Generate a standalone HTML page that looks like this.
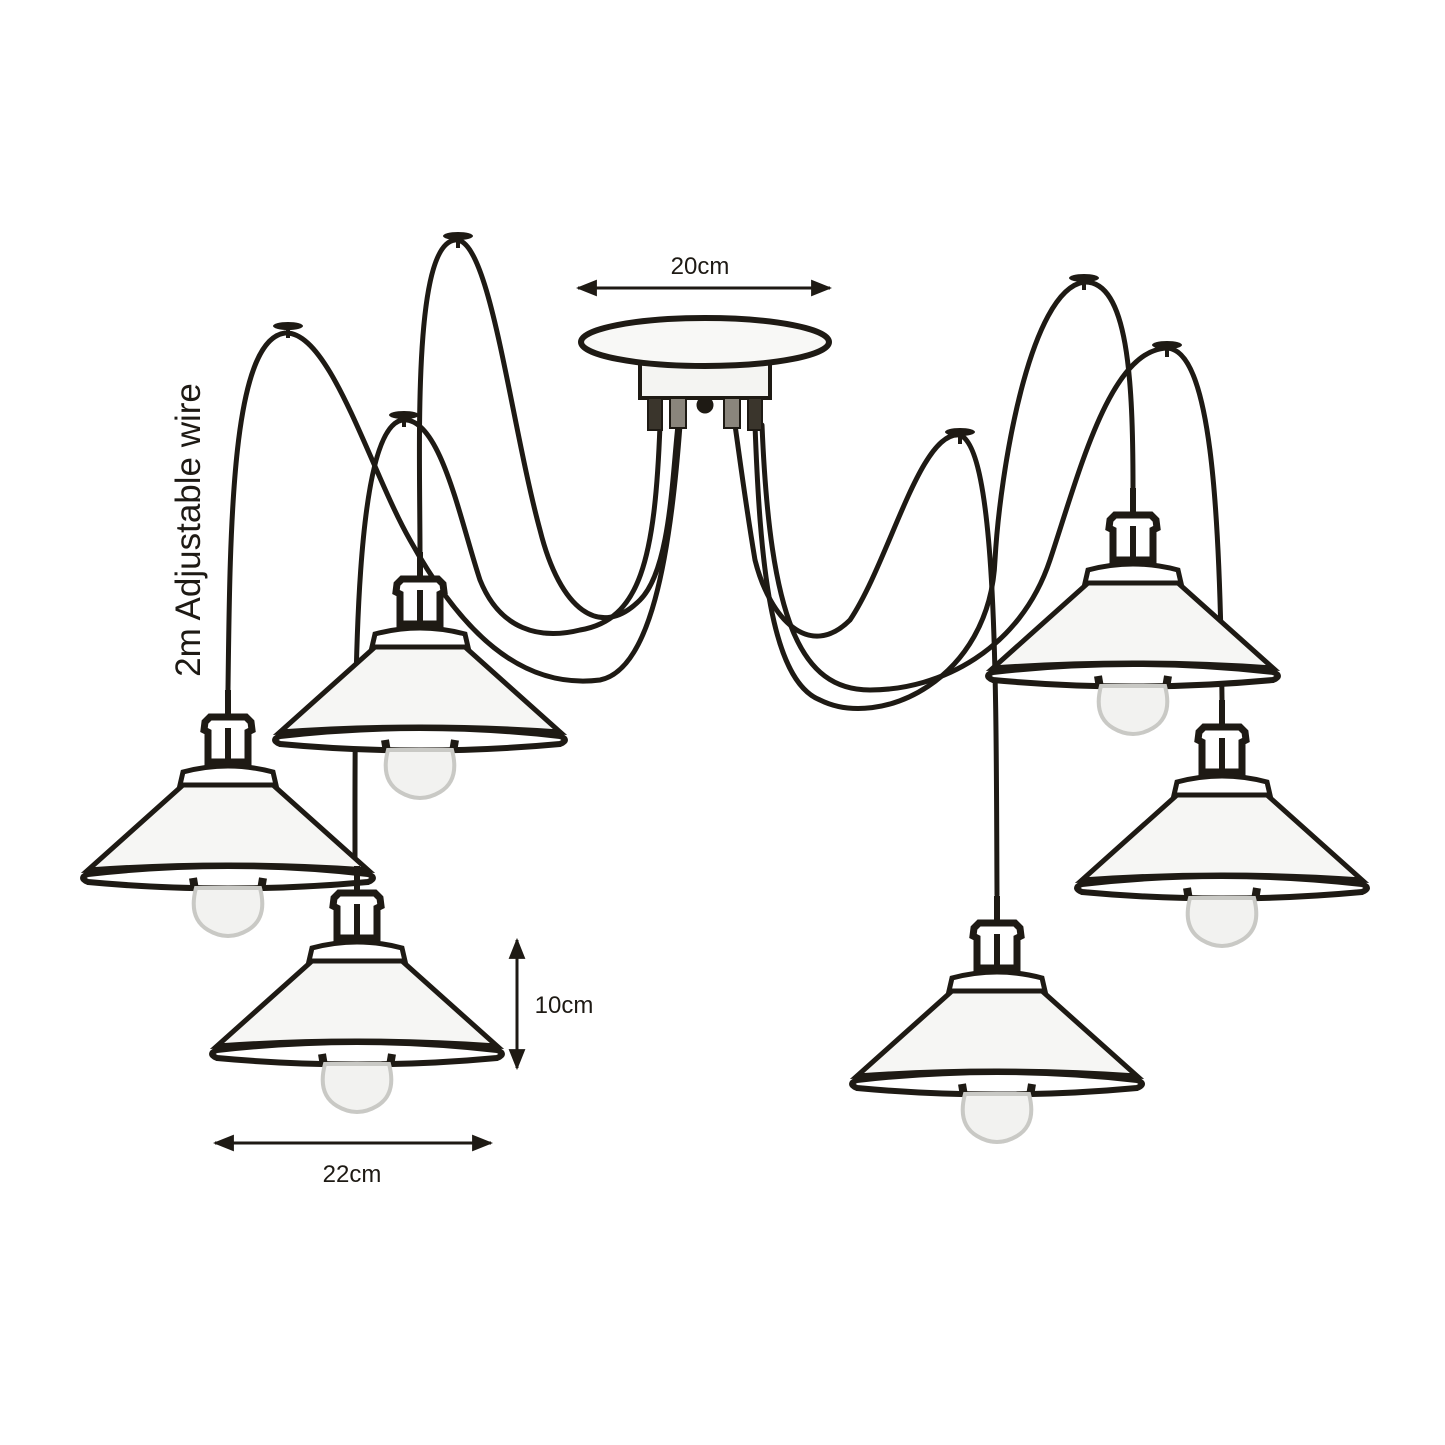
<!DOCTYPE html>
<html><head><meta charset="utf-8"><style>
html,body{margin:0;padding:0;background:#fff;width:1445px;height:1445px;overflow:hidden}
svg{display:block}
text{font-family:"Liberation Sans",sans-serif;fill:#1e1a14}
</style></head><body>
<svg width="1445" height="1445" viewBox="0 0 1445 1445" xmlns="http://www.w3.org/2000/svg">
<defs>
<marker id="ah" viewBox="0 0 10 10" refX="9" refY="5" markerWidth="7" markerHeight="7" orient="auto-start-reverse"><path d="M0,1 L10,5 L0,9 z" fill="#1e1a14"/></marker>
<g id="hook"><ellipse cx="0" cy="0" rx="15" ry="4" fill="#1e1a14"/><rect x="-2" y="0" width="4" height="12" fill="#1e1a14"/></g>
<g id="lamp" stroke="#1e1a14" fill="#fff">
 <rect x="-3" y="0" width="6" height="26" fill="#1e1a14" stroke="none"/>
 <path d="M-23,32 L-18,27 L18,27 L23,32 L24,40 L20,42 L20,72 L-20,72 L-20,42 L-24,40 Z" stroke-width="7"/>
 <rect x="-3" y="38" width="6" height="34" fill="#1e1a14" stroke="none"/>
 <path d="M-45,82 Q0,70 45,82 L48,95 L-48,95 Z" stroke-width="5"/>
 <path d="M-45,95 L45,95 L140,180 Q0,170 -140,180 Z" stroke-width="5" fill="#f6f6f4"/>
 <path d="M-140,184 Q0,168 140,184 Q150,188 140,192 Q0,205 -140,192 Q-150,188 -140,184Z" stroke-width="6" fill="#fff"/>
 <path d="M-35,188 L-33,200 M35,188 L33,200" stroke-width="8"/>
 <path d="M-32,198 Q-40,228 -20,240 Q0,252 20,240 Q40,228 32,198 Z" stroke="#c9c9c5" stroke-width="4" fill="#f2f2f0"/>
</g>
</defs>
<g fill="none" stroke="#1e1a14" stroke-width="5" stroke-linecap="round">
 <path d="M228,690 C230,520 232,340 285,333 C330,330 370,470 410,540 C460,630 520,690 600,680 C650,670 670,560 680,425"/>
 <path d="M420,555 C420,450 412,245 455,240 C490,236 510,420 540,530 C560,610 600,640 640,600 C670,570 672,480 678,425"/>
 <path d="M355,865 C355,700 352,430 402,420 C440,415 460,520 480,580 C500,630 540,640 580,630 C640,620 655,560 660,425"/>
 <path d="M997,895 C996,700 998,450 960,435 C920,430 890,560 850,620 C810,660 770,620 755,560 C745,500 740,460 735,425"/>
 <path d="M1133,488 C1133,380 1128,280 1084,282 C1030,290 1000,470 995,560 C990,680 880,730 820,700 C770,680 760,560 755,425"/>
 <path d="M1222,700 C1220,500 1210,350 1167,348 C1110,350 1080,470 1050,560 C1020,650 940,690 870,690 C800,690 770,620 762,425"/>
</g>
<use href="#hook" x="288" y="326"/><use href="#hook" x="458" y="236"/><use href="#hook" x="404" y="415"/>
<use href="#hook" x="1084" y="278"/><use href="#hook" x="1167" y="345"/><use href="#hook" x="960" y="432"/>
<g stroke="#1e1a14">
 <path d="M640,362 L770,362 L770,398 L640,398 Z" fill="#f4f4f2" stroke-width="4"/>
 <ellipse cx="705" cy="342" rx="124" ry="24" fill="#f8f8f6" stroke-width="6"/>
 <rect x="648" y="398" width="14" height="32" fill="#3a352c" stroke-width="2"/>
 <rect x="670" y="398" width="16" height="30" fill="#8a857c" stroke-width="2"/>
 <rect x="724" y="398" width="16" height="30" fill="#8a857c" stroke-width="2"/>
 <rect x="748" y="398" width="14" height="32" fill="#3a352c" stroke-width="2"/>
 <circle cx="705" cy="405" r="8" fill="#1e1a14"/>
</g>
<use href="#lamp" x="228" y="690"/>
<use href="#lamp" x="420" y="552"/>
<use href="#lamp" x="357" y="866"/>
<use href="#lamp" x="997" y="896"/>
<use href="#lamp" x="1133" y="488"/>
<use href="#lamp" x="1222" y="700"/>
<g stroke="#1e1a14" stroke-width="3">
 <line x1="578" y1="288" x2="830" y2="288" marker-start="url(#ah)" marker-end="url(#ah)"/>
 <line x1="517" y1="940" x2="517" y2="1068" marker-start="url(#ah)" marker-end="url(#ah)"/>
 <line x1="215" y1="1143" x2="491" y2="1143" marker-start="url(#ah)" marker-end="url(#ah)"/>
</g>
<text x="700" y="274" font-size="24" text-anchor="middle">20cm</text>
<text x="564" y="1013" font-size="24" text-anchor="middle">10cm</text>
<text x="352" y="1182" font-size="24" text-anchor="middle">22cm</text>
<text transform="translate(200,530) rotate(-90)" font-size="35" text-anchor="middle">2m Adjustable wire</text>
</svg>
</body></html>
